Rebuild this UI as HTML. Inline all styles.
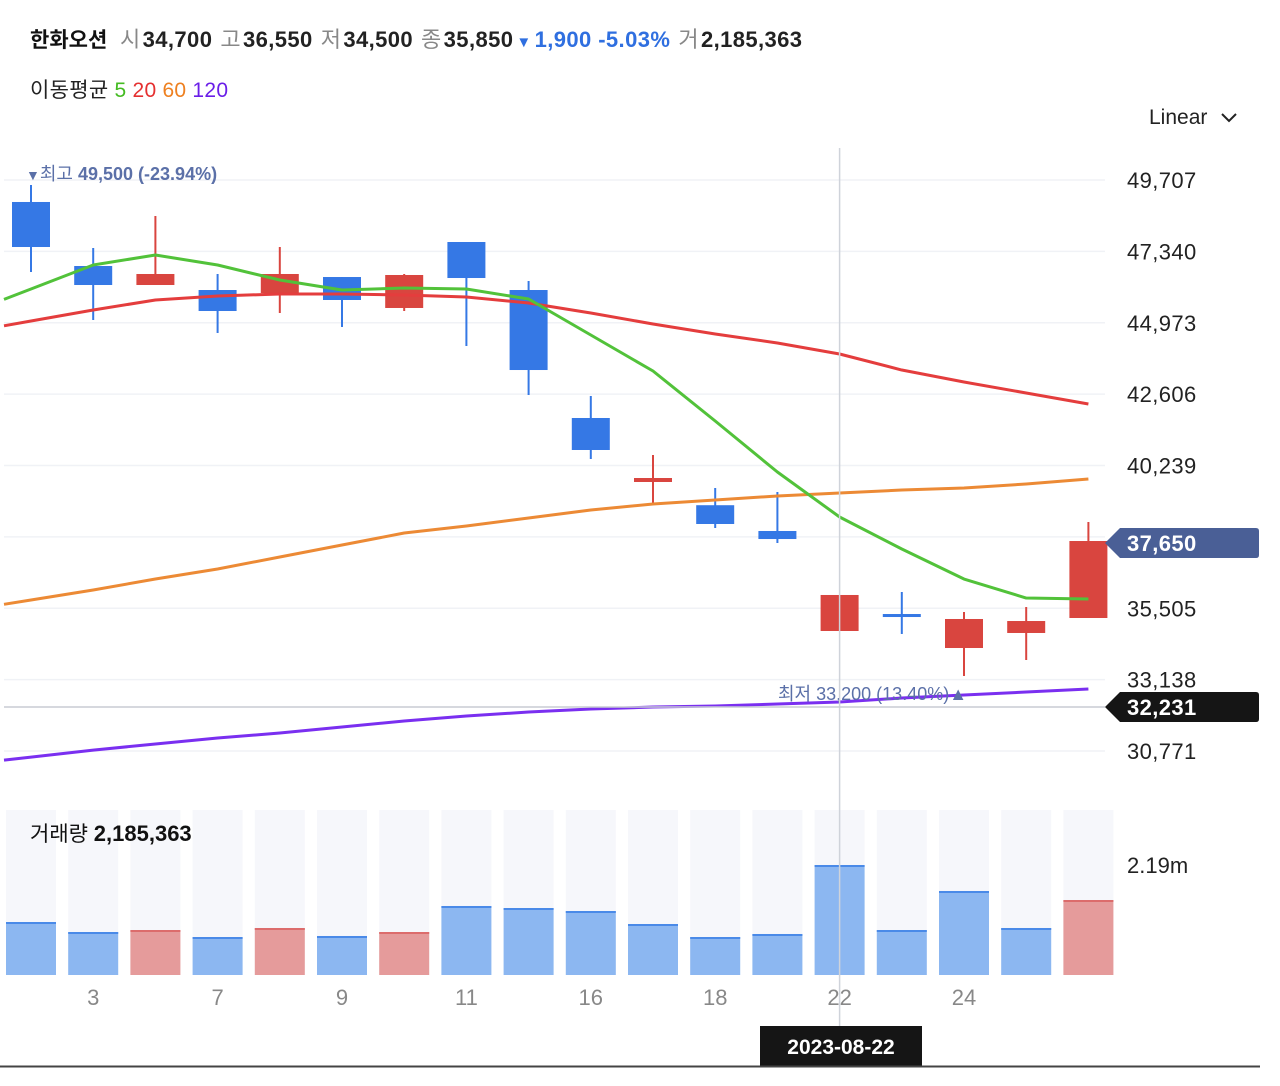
<!DOCTYPE html>
<html><head><meta charset="utf-8">
<style>
body{margin:0;width:1280px;height:1081px;background:#fff;overflow:hidden;font-family:"Liberation Sans","Noto Sans CJK KR",sans-serif;}
svg text{font-family:"Liberation Sans","Noto Sans CJK KR",sans-serif;}
</style></head>
<body>
<svg id="chart" width="1280" height="1081" xmlns="http://www.w3.org/2000/svg">
<g>
<text x="30" y="47" font-size="21" font-weight="bold" fill="#111">한화오션</text>
<text y="47" font-size="22" letter-spacing="0.4"><tspan x="120" fill="#888">시</tspan><tspan fill="#222" font-weight="bold" dx="2">34,700</tspan><tspan fill="#888" dx="8">고</tspan><tspan fill="#222" font-weight="bold" dx="2">36,550</tspan><tspan fill="#888" dx="8">저</tspan><tspan fill="#222" font-weight="bold" dx="2">34,500</tspan><tspan fill="#888" dx="8">종</tspan><tspan fill="#222" font-weight="bold" dx="2">35,850</tspan><tspan fill="#2f6fe0" font-size="15" dx="3">▼</tspan><tspan fill="#2f6fe0" font-weight="bold" dx="3">1,900 -5.03%</tspan><tspan fill="#888" dx="8">거</tspan><tspan fill="#222" font-weight="bold" dx="2">2,185,363</tspan></text>
<text y="97" font-size="21" letter-spacing="0.3"><tspan x="30" fill="#222">이동평균</tspan><tspan fill="#44bb22" dx="6">5</tspan><tspan fill="#e53030" dx="6">20</tspan><tspan fill="#ee8020" dx="6">60</tspan><tspan fill="#6a1ee8" dx="6">120</tspan></text>
<g><text x="1149" y="124" font-size="21" fill="#222">Linear</text><path d="M1222 114 l7 7 l7 -7" stroke="#222" stroke-width="2" fill="none"/></g>
</g>
<g id="grid"></g>
<g id="vol"></g>
<g id="candles"></g>
<g id="mas"></g>
<g id="overlay"></g>
</svg>
<script>
const NS="http://www.w3.org/2000/svg";
const dates=["1","3","4","7","8","9","10","11","14","16","17","18","21","22","23","24","25","28"];
const openV=[48978,46855,46225,46059,45960,46490,45463,47651,46059,41815,39693,38923,38068,34752,35315,34188,34686,35183];
const closeV=[47485,46225,46590,45363,46590,45728,46557,46457,43406,40754,39825,38300,37802,35946,35216,35150,35083,37736];
const highV=[49541,47452,48513,46590,47485,46490,46590,47651,46358,42545,40588,39494,39361,35946,36045,35382,35547,38366];
const lowV=[46656,45065,46225,44634,45297,44833,45363,44203,42578,40455,38996,38167,37670,34752,34653,33260,33790,35183];
const ma5=[46093,46888,47220,46888,46391,46059,46126,46093,45761,44567,43373,41715,40024,38532,37471,36476,35846,35813];
const ma20=[45031,45396,45728,45860,45927,45927,45894,45827,45628,45297,44932,44600,44302,43937,43406,43008,42644,42279];
const ma60=[35780,36111,36476,36808,37206,37604,38001,38234,38500,38765,38963,39096,39229,39328,39427,39494,39626,39792];
const ma120=[30571,30803,31004,31203,31369,31568,31767,31933,32065,32165,32231,32264,32331,32397,32530,32629,32729,32828];
const volumes=[1053000,854000,894000,755000,934000,775000,854000,1371000,1331000,1271000,1013000,755000,815000,2185363,894000,1669000,934000,1490000];
const volUp=[0,0,1,0,1,0,1,0,0,0,0,0,0,0,0,0,0,1];
const yTicks=[49707,47340,44973,42606,40239,37872,35505,33138,30771];
const xTickLabels=["3","7","9","11","16","18","22","24"];
const xTickIdx=[1,3,5,7,9,11,13,15];

const xs=i=>31+i*62.2;
const ys=v=>180+(49707-v)/33.16;
const yv=v=>975-v/19867;
function el(tag,attrs,parent){const e=document.createElementNS(NS,tag);for(const k in attrs)e.setAttribute(k,attrs[k]);parent.appendChild(e);return e;}
const grid=document.getElementById('grid'),vol=document.getElementById('vol'),cg=document.getElementById('candles'),mg=document.getElementById('mas'),ov=document.getElementById('overlay');

yTicks.forEach((t,i)=>{
  const l=el('line',{x1:4,x2:1105,y1:ys(t),y2:ys(t),stroke:'#f0f2f6','stroke-width':1.5},grid);
  
  
  if(t===37872)return;
  const tx=el('text',{x:1127,y:ys(t)+8,'font-size':22,'letter-spacing':0.4,fill:'#222'},grid);
  tx.textContent=t.toLocaleString('en-US');
  
  
});

volumes.forEach((v,i)=>{
  const x=xs(i)-25;
  const bg=el('rect',{x:x,y:810,width:50,height:165,fill:'#f6f7fb'},vol);
  
  
  const c=volUp[i]?'#e59b9b':'#8cb7f1',cs=volUp[i]?'#dc6c6c':'#4a8ae8';
  const r=el('rect',{x:x,y:yv(v),width:50,height:975-yv(v),fill:c},vol);
  
  
  const tl=el('line',{x1:x,x2:x+50,y1:yv(v)+1,y2:yv(v)+1,stroke:cs,'stroke-width':2},vol);
  
  
});
const vl=el('text',{x:30,y:841,'font-size':21,fill:'#111'},vol);
vl.innerHTML='거래량 <tspan font-weight="bold" font-size="22">2,185,363</tspan>';


const vt=el('text',{x:1127,y:873,'font-size':22,fill:'#222'},vol);
vt.textContent='2.19m';



openV.forEach((o,i)=>{
  const c=closeV[i],up=c>=o,col=up?'#d9453f':'#3578e5',x=xs(i);
  const w=el('line',{x1:x,x2:x,y1:ys(highV[i]),y2:ys(lowV[i]),stroke:col,'stroke-width':2},cg);
  
  
  const top=ys(Math.max(o,c)),h=Math.max(3,Math.abs(ys(o)-ys(c)));
  const b=el('rect',{x:x-19,y:top,width:38,height:h,fill:col},cg);
  
  
});

function line(arr,col,name){
  const x0=4,slope=(ys(arr[1])-ys(arr[0]))/(xs(1)-xs(0));
  let d='M'+x0+' '+(ys(arr[0])-slope*(xs(0)-x0));
  arr.forEach((v,i)=>{d+=' L'+xs(i)+' '+ys(v);});
  const p=el('path',{d:d,stroke:col,'stroke-width':3,fill:'none','stroke-linejoin':'round'},mg);
  
  
}
line(ma120,'#7a2ff0','ma120-line');
line(ma60,'#ec8a35','ma60-line');
line(ma20,'#e43d3d','ma20-line');
line(ma5,'#52c23a','ma5-line');

xTickLabels.forEach((t,k)=>{
  const tx=el('text',{x:xs(xTickIdx[k]),y:1005,'font-size':22,fill:'#888','text-anchor':'middle'},ov);
  tx.textContent=t;
  
  
});

const hiT=el('text',{x:26,y:180,'font-size':18,fill:'#5b70a8','font-weight':'bold'},ov);
hiT.innerHTML='<tspan font-weight="normal" font-size="14">▼</tspan><tspan font-weight="normal">최고</tspan> 49,500 (-23.94%)';


const loT=el('text',{x:778,y:700,'font-size':18,fill:'#5b70a8'},ov);
loT.textContent='최저 33,200 (13.40%)▲';



const cx=xs(13);
const vline=el('line',{x1:cx,x2:cx,y1:148,y2:1026,stroke:'#cfd3da','stroke-width':1.5},ov);


const hline=el('line',{x1:4,x2:1105,y1:707,y2:707,stroke:'#c8ccd4','stroke-width':1.5},ov);



function tag(y,txt,col,name){
  const g=el('g',{},ov);
  
  
  el('path',{d:`M1105 ${y} L1120 ${y-15} L1256 ${y-15} Q1259 ${y-15} 1259 ${y-12} L1259 ${y+12} Q1259 ${y+15} 1256 ${y+15} L1120 ${y+15} Z`,fill:col},g);
  const t=el('text',{x:1127,y:y+8,'font-size':22,'letter-spacing':0.4,fill:'#fff','font-weight':'bold'},g);
  t.textContent=txt;
}
tag(543,'37,650','#4a5f96','last-price-tag');
tag(707,'32,231','#151515','crosshair-price-tag');

const db=el('g',{},ov);


el('rect',{x:760,y:1026,width:162,height:41,fill:'#151515'},db);
const dt=el('text',{x:841,y:1054,'font-size':21,fill:'#fff','font-weight':'bold','text-anchor':'middle'},db);
dt.textContent='2023-08-22';
const bl=el('line',{x1:0,x2:1260,y1:1066.5,y2:1066.5,stroke:'#444','stroke-width':2},ov);


</script>
</body></html>
